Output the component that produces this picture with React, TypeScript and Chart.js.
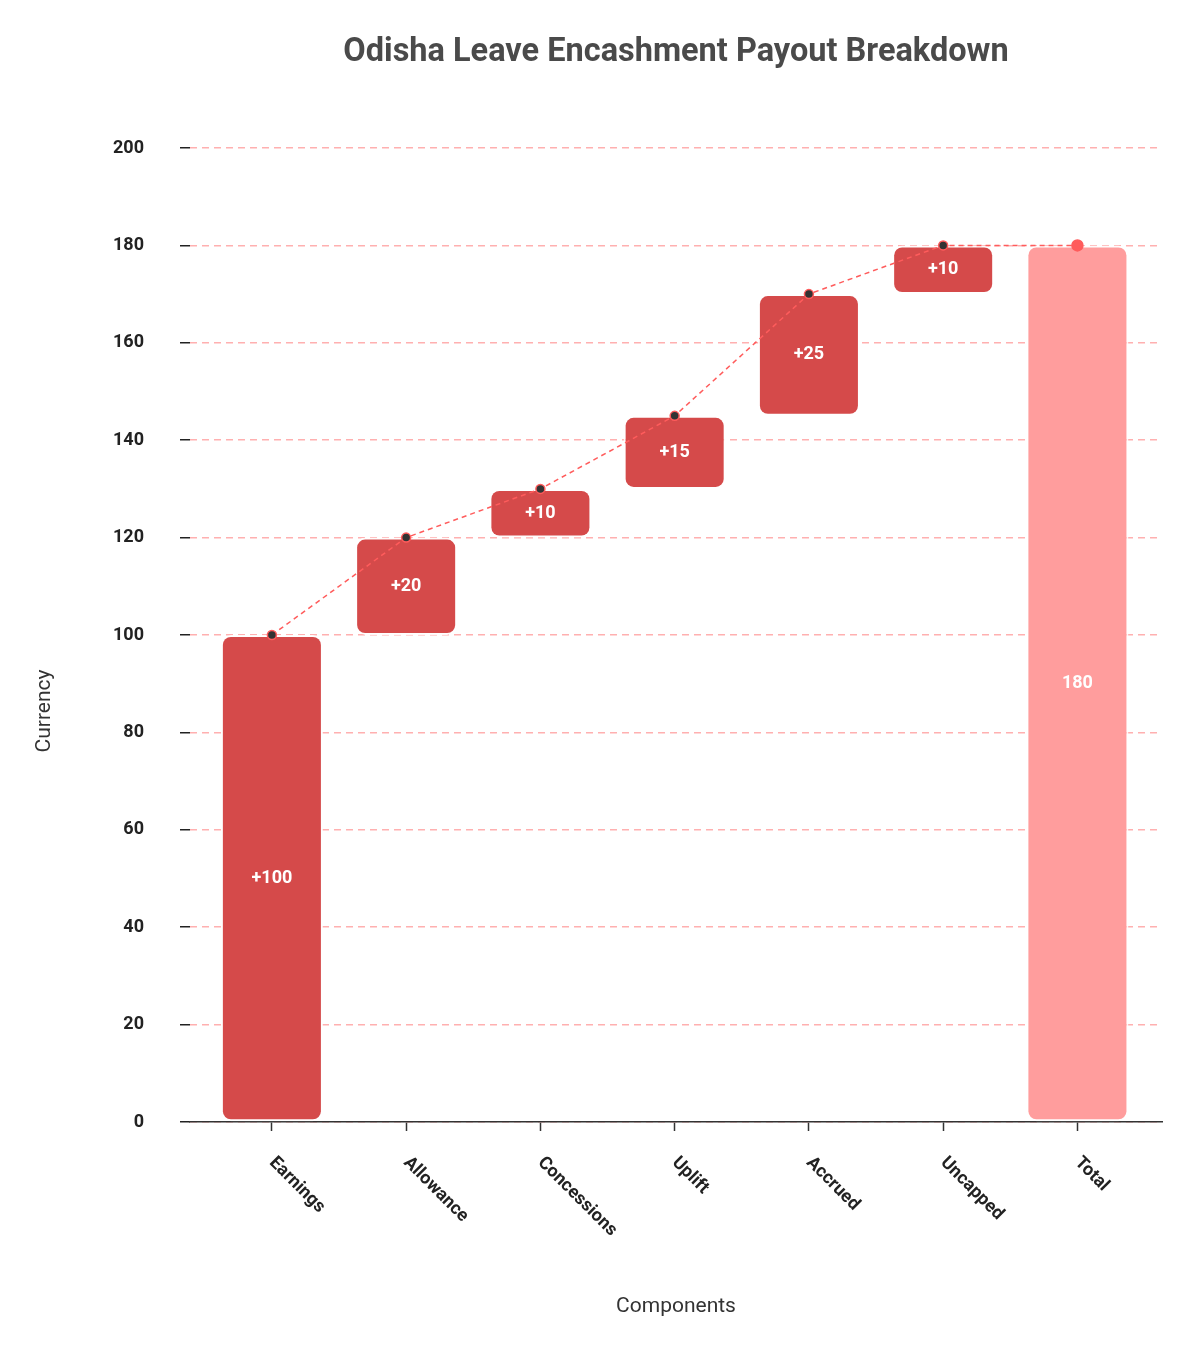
import { useEffect, useRef } from 'react';
import { Chart, registerables, Plugin } from 'chart.js';

Chart.register(...registerables);

// waterfall steps
const components = ['Earnings', 'Allowance', 'Concessions', 'Uplift', 'Accrued', 'Uncapped', 'Total'];
const barStarts = [0, 100, 120, 130, 145, 170, 0];
const barEnds = [100, 120, 130, 145, 170, 180, 180];
const barLabels = ['+100', '+20', '+10', '+15', '+25', '+10', '180'];
const runningTotal = [100, 120, 130, 145, 170, 180, 180];

const yMin = 0;
const yMax = 200;
const yStep = 20;

const STEP_COLOR = '#d54a4a';
const TOTAL_COLOR = '#ff9d9d';
const LINE_COLOR = '#ff5c5c';
const FONT = 'Roboto';

const labelsPlugin: Plugin<'bar'> = {
  id: 'waterfallLabels',
  afterDatasetsDraw(chart) {
    const ctx = chart.ctx;
    const meta = chart.getDatasetMeta(0);
    ctx.save();
    ctx.font = `bold 18px ${FONT}`;
    ctx.fillStyle = '#ffffff';
    ctx.textAlign = 'center';
    ctx.textBaseline = 'middle';
    meta.data.forEach((bar, i) => {
      const { x, y } = bar.getCenterPoint();
      ctx.fillText(barLabels[i], x, y);
    });
    ctx.restore();
  },
  afterDraw(chart) {
    const ctx = chart.ctx;
    const xScale = chart.scales.x;
    const area = chart.chartArea;

    // rotated category labels, reading down to the right
    ctx.save();
    ctx.font = `bold 18px ${FONT}`;
    ctx.fillStyle = '#222222';
    ctx.textAlign = 'left';
    ctx.textBaseline = 'middle';
    xScale.ticks.forEach((t) => {
      const px = xScale.getPixelForValue(t.value);
      ctx.save();
      ctx.translate(px, area.bottom + 38);
      ctx.rotate(Math.PI / 4);
      ctx.fillText(components[t.value], 0, 0);
      ctx.restore();
    });
    ctx.restore();

    // y axis title
    ctx.save();
    ctx.font = `21px ${FONT}`;
    ctx.fillStyle = '#333333';
    ctx.textAlign = 'center';
    ctx.textBaseline = 'middle';
    ctx.translate(37, (area.top + area.bottom) / 2 + 76);
    ctx.rotate(-Math.PI / 2);
    ctx.fillText('Currency', 0, 0);
    ctx.restore();
  },
};

export default function App() {
  const chartRef = useRef<HTMLCanvasElement>(null);
  const chartInstance = useRef<Chart | null>(null);

  useEffect(() => {
    if (!chartRef.current) return;
    if (chartInstance.current) {
      chartInstance.current.destroy();
    }
    const ctx = chartRef.current.getContext('2d');
    if (!ctx) return;

    chartInstance.current = new Chart(ctx, {
      type: 'bar',
      data: {
        datasets: [
          {
            type: 'bar',
            data: components.map((_, i) => ({ x: i, y: [barStarts[i], barEnds[i]] })) as any,
            backgroundColor: components.map((_, i) => (i === components.length - 1 ? TOTAL_COLOR : STEP_COLOR)),
            borderColor: 'rgba(255,255,255,0.9)',
            borderWidth: 2,
            borderRadius: 10,
            borderSkipped: false,
            barPercentage: 0.95,
            order: 1,
          },
          {
            type: 'line',
            data: runningTotal.map((v, i) => ({ x: i, y: v })) as any,
            borderColor: LINE_COLOR,
            borderWidth: 1.5,
            borderDash: [5, 4],
            fill: false,
            tension: 0,
            pointRadius: runningTotal.map((_, i) => (i === runningTotal.length - 1 ? 5.5 : 4.5)),
            pointBackgroundColor: runningTotal.map((_, i) => (i === runningTotal.length - 1 ? LINE_COLOR : '#333333')),
            pointBorderColor: LINE_COLOR,
            pointBorderWidth: 1.5,
            order: 0,
          } as any,
        ],
      },
      options: {
        responsive: true,
        maintainAspectRatio: false,
        animation: false,
        layout: { padding: { left: 0, right: 30, top: 0, bottom: 0 } },
        plugins: {
          legend: { display: false },
          tooltip: { enabled: false },
          title: {
            display: true,
            text: 'Odisha Leave Encashment Payout Breakdown',
            fullSize: false,
            color: '#4a4a4a',
            font: { family: FONT, size: 32.5, weight: 'bold' },
            padding: { top: 25, bottom: 76 },
          },
        },
        scales: {
          x: {
            type: 'linear',
            offset: false,
            min: -0.61,
            max: 6.63,
            afterBuildTicks: (scale) => {
              scale.ticks = scale.ticks.filter((t) => Number.isInteger(t.value));
            },
            afterFit: (scale) => {
              scale.height = 225;
            },
            ticks: { stepSize: 1, display: false },
            grid: {
              offset: false,
              drawOnChartArea: false,
              drawTicks: true,
              tickLength: 9,
              tickColor: '#333333',
              tickWidth: 1.5,
            },
            border: { display: true, color: '#333333', width: 1.5 },
            title: {
              display: true,
              text: 'Components',
              color: '#333333',
              font: { family: FONT, size: 21 },
              padding: { top: 0, bottom: 28 },
            },
          },
          y: {
            min: yMin,
            max: yMax,
            afterFit: (scale) => {
              scale.width = 182;
            },
            ticks: {
              stepSize: yStep,
              color: '#222222',
              padding: 36,
              font: { family: FONT, size: 18, weight: 'bold' },
            },
            grid: {
              color: '#ffb0b0',
              lineWidth: 1.5,
              tickColor: '#222222',
              tickLength: 10,
              tickWidth: 1.5,
            },
            border: { display: false, dash: [7, 5] },
          },
        },
      },
      plugins: [labelsPlugin],
    });

    return () => {
      if (chartInstance.current) {
        chartInstance.current.destroy();
        chartInstance.current = null;
      }
    };
  }, []);

  return (
    <div style={{ width: 1184, height: 1339, position: 'relative' }}>
      <canvas ref={chartRef}></canvas>
    </div>
  );
}
